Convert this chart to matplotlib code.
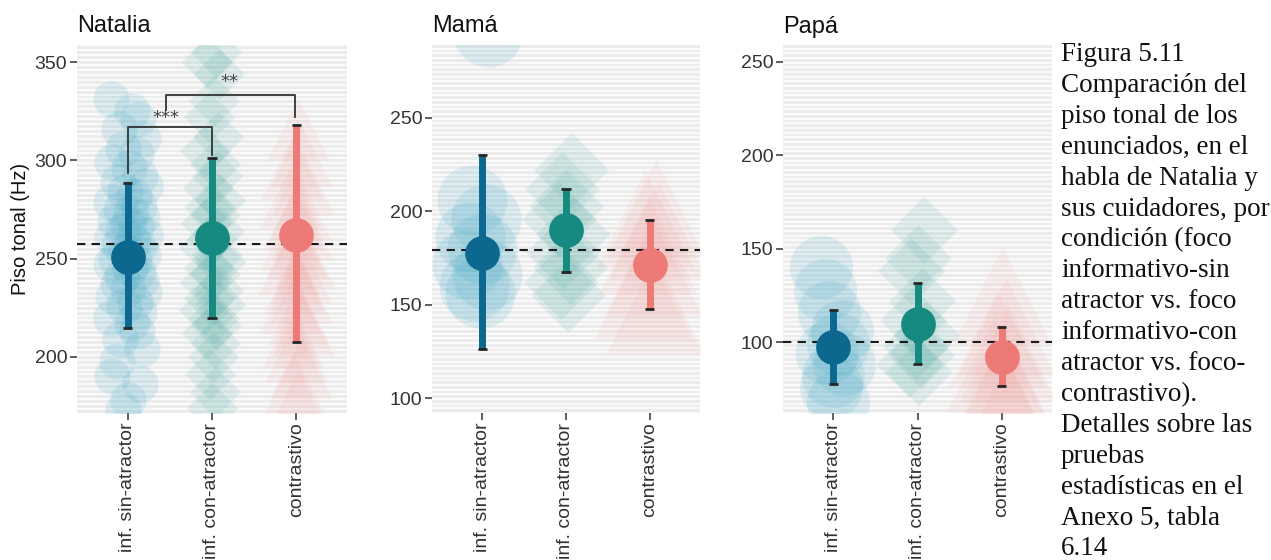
import numpy as np
import matplotlib
matplotlib.use('Agg')
import matplotlib.pyplot as plt

# ---------------- data ----------------
categories = ['inf. sin-atractor', 'inf. con-atractor', 'contrastivo']
speakers = ['Natalia', 'Mamá', 'Papá']

nat_mean = [251.0, 260.5, 262.0]
nat_low = [214.5, 220.0, 207.5]
nat_high = [288.5, 301.0, 318.0]
mam_mean = [177.7, 190.2, 171.4]
mam_low = [126.2, 167.3, 147.7]
mam_high = [230.3, 212.1, 195.5]
pap_mean = [97.3, 109.8, 92.0]
pap_low = [77.3, 88.1, 76.3]
pap_high = [117.0, 131.6, 108.0]
ref_lines = [257.5, 179.4, 100.0]

nat_ticks = [200, 250, 300, 350]
mam_ticks = [100, 150, 200, 250]
pap_ticks = [100, 150, 200, 250]

# individual utterances (value, horizontal jitter)
nat_sin_vals = [331, 325, 321, 316, 311, 306, 303, 299, 296, 292,
                289, 287, 284, 282, 279, 277, 275, 273, 271, 269,
                267, 266, 264, 262, 261, 259, 257, 256, 254, 252,
                250, 249, 247, 245, 243, 241, 239, 237, 235, 233,
                231, 228, 226, 223, 220, 217, 213, 209, 204, 198,
                190, 186, 178, 173]
nat_sin_jit = [-0.20, 0.05, 0.12, -0.10, 0.18, -0.05, 0.10, -0.18, 0.02, 0.15,
               -0.12, 0.20, -0.03, 0.08, -0.20, 0.13, -0.08, 0.04, 0.17, -0.15,
               0.00, 0.10, -0.06, 0.20, -0.18, 0.06, -0.10, 0.14, -0.02, 0.18,
               -0.14, 0.08, -0.20, 0.03, 0.12, -0.07, 0.16, -0.12, 0.01, 0.19,
               -0.17, 0.09, -0.04, 0.14, -0.20, 0.05, 0.11, -0.09, 0.17, -0.13,
               -0.18, 0.15, 0.00, -0.05]
nat_con_vals = [355, 350, 344, 330, 322, 312, 305, 298, 292, 286,
                280, 276, 272, 268, 264, 260, 256, 252, 248, 245,
                242, 238, 234, 230, 227, 224, 220, 216, 212, 207,
                200, 191, 182, 174]
nat_con_jit = [0.05, -0.06, 0.08, 0.02, -0.04, 0.07, -0.08, 0.03, 0.06, -0.05,
               0.09, -0.02, 0.04, -0.07, 0.08, 0.00, -0.09, 0.06, 0.10, -0.04,
               0.03, -0.08, 0.07, -0.03, 0.09, -0.10, 0.02, 0.05, -0.06, 0.04,
               0.01, -0.02, 0.03, 0.00]
nat_cont_vals = [316, 302, 296, 288, 281, 275, 270, 265, 260, 256,
                 251, 247, 243, 238, 233, 228, 222, 216, 210, 203,
                 195, 186, 178]
nat_cont_jit = [0.02, 0.06, -0.05, 0.08, -0.08, 0.04, -0.03, 0.07, -0.06, 0.01,
                0.09, -0.09, 0.05, -0.02, 0.06, -0.07, 0.03, 0.08, -0.04, 0.00,
                0.05, -0.03, 0.02]

mam_sin_vals = [296, 206, 196, 186, 180, 172, 166, 160, 156, 72]
mam_sin_jit = [0.07, -0.12, 0.05, -0.15, 0.00, -0.18, 0.06, -0.10, -0.03, 0.02]
mam_con_vals = [222, 212, 203, 196, 188, 178, 170, 162, 155]
mam_con_jit = [0.06, -0.05, 0.00, -0.08, 0.08, -0.03, 0.05, -0.06, 0.02]
mam_cont_vals = [202, 196, 190, 182, 170, 158, 150]
mam_cont_jit = [0.08, -0.06, 0.10, -0.02, 0.04, -0.08, 0.06]

pap_sin_vals = [140, 128, 116, 106, 99, 94, 88, 82, 76, 68]
pap_sin_jit = [-0.15, -0.10, -0.05, 0.10, 0.05, -0.08, 0.12, 0.00, -0.03, 0.06]
pap_con_vals = [160, 145, 138, 122, 112, 104, 98, 93, 88, 84]
pap_con_jit = [0.08, 0.00, -0.08, 0.05, -0.05, 0.10, -0.02, 0.04, -0.10, 0.02]
pap_cont_vals = [125, 108, 102, 94, 88, 80, 72, 64]
pap_cont_jit = [0.00, 0.05, -0.05, 0.08, -0.08, 0.03, -0.02, 0.06]

caption_lines = ['Figura 5.11', 'Comparación del', 'piso tonal de los',
                 'enunciados, en el', 'habla de Natalia y', 'sus cuidadores, por',
                 'condición (foco', 'informativo-sin', 'atractor vs. foco',
                 'informativo-con', 'atractor vs. foco-', 'contrastivo).',
                 'Detalles sobre las', 'pruebas', 'estadísticas en el',
                 'Anexo 5, tabla', '6.14']

# ---------------- style ----------------
plt.rcParams['font.family'] = ['Liberation Sans', 'DejaVu Sans']
W, H = 1271, 560
fig = plt.figure(figsize=(W / 100, H / 100), dpi=100)

mean_cols = ['#0d6890', '#168a80', '#ee7a77']
pt_cols = ['#3fa8c6', '#3fa39b', '#f08a86']
pt_alpha = [0.15, 0.12, 0.09]
markers = ['o', 'D', '^']

panels = [
    dict(box=(77, 45, 347, 413), ylim=(171.4, 358.7), ticks=nat_ticks,
         mean=nat_mean, lo=nat_low, hi=nat_high,
         pts=[(nat_sin_vals, nat_sin_jit), (nat_con_vals, nat_con_jit), (nat_cont_vals, nat_cont_jit)],
         sizes=[680, 680, 2000]),
    dict(box=(432, 45, 700, 413), ylim=(92.0, 289.0), ticks=mam_ticks,
         mean=mam_mean, lo=mam_low, hi=mam_high,
         pts=[(mam_sin_vals, mam_sin_jit), (mam_con_vals, mam_con_jit), (mam_cont_vals, mam_cont_jit)],
         sizes=[2540, 1450, 5000]),
    dict(box=(783, 45, 1052, 413), ylim=(62.0, 259.0), ticks=pap_ticks,
         mean=pap_mean, lo=pap_low, hi=pap_high,
         pts=[(pap_sin_vals, pap_sin_jit), (pap_con_vals, pap_con_jit), (pap_cont_vals, pap_cont_jit)],
         sizes=[2060, 1160, 4900]),
]

axes = []
for k, p in enumerate(panels):
    x0, y0, x1, y1 = p['box']
    ax = fig.add_axes([x0 / W, 1 - y1 / H, (x1 - x0) / W, (y1 - y0) / H])
    axes.append(ax)
    ax.set_facecolor('#ececec')
    ax.set_xlim(0.4, 3.6)
    ax.set_ylim(*p['ylim'])
    for s in ax.spines.values():
        s.set_visible(False)
    # fine white horizontal stripes of the panel background
    for yv in np.arange(np.floor(p['ylim'][0]), p['ylim'][1], 2.5):
        ax.axhline(yv, color='white', lw=1.1, zorder=0)
    xs = np.arange(1, 4)
    # individual points
    for g in range(3):
        vals, jit = p['pts'][g]
        ax.scatter(xs[g] + np.array(jit), vals, s=p['sizes'][g], marker=markers[g],
                   color=pt_cols[g], alpha=pt_alpha[g], linewidths=0, zorder=2)
    # reference dashed line
    ax.axhline(ref_lines[k], color='#1a1a1a', lw=1.5, ls=(0, (4, 3)), zorder=3)
    # error bars and means
    for g in range(3):
        ax.plot([xs[g], xs[g]], [p['lo'][g], p['hi'][g]], color=mean_cols[g],
                lw=5, solid_capstyle='butt', zorder=4)
        for yy in (p['lo'][g], p['hi'][g]):
            ax.plot([xs[g] - 0.055, xs[g] + 0.055], [yy, yy], color='#262626',
                    lw=2.0, solid_capstyle='butt', zorder=5)
        ax.plot(xs[g], p['mean'][g], 'o', ms=25, color=mean_cols[g], mec='none', zorder=6)
    ax.set_xticks(xs)
    ax.set_xticklabels(categories, rotation=90, fontsize=14, color='#333333')
    ax.set_yticks(p['ticks'])
    ax.set_yticklabels([str(t) for t in p['ticks']], fontsize=14, color='#333333')
    ax.tick_params(axis='both', length=5, width=1.1, color='#333333', pad=2)
    ax.set_title(speakers[k], loc='left', fontsize=17, pad=9, color='#111111')

axes[0].set_ylabel('Piso tonal (Hz)', fontsize=14.5, color='#111111')
axes[0].yaxis.set_label_coords(-0.175, 0.5)

# significance brackets (Natalia)
ax = axes[0]
bk = dict(color='#333333', lw=1.3, zorder=7)
ax.plot([1, 1, 2, 2], [293.5, 317.0, 317.0, 302.5], **bk)
ax.text(1.45, 321.5, '***', ha='center', va='center', fontsize=13, color='#444444',
        family='DejaVu Sans')
ax.plot([1.46, 1.46, 2.98, 2.98], [325.5, 333.5, 333.5, 322.0], **bk)
ax.text(2.21, 340.0, '**', ha='center', va='center', fontsize=13, color='#444444',
        family='DejaVu Sans')

# caption
for i, line in enumerate(caption_lines):
    fig.text(1061 / W, 1 - (61 + i * 30.9) / H, line, ha='left', va='baseline',
             fontsize=19.5, family='Liberation Serif', color='#111111')

fig.savefig('out.png', dpi=100)
